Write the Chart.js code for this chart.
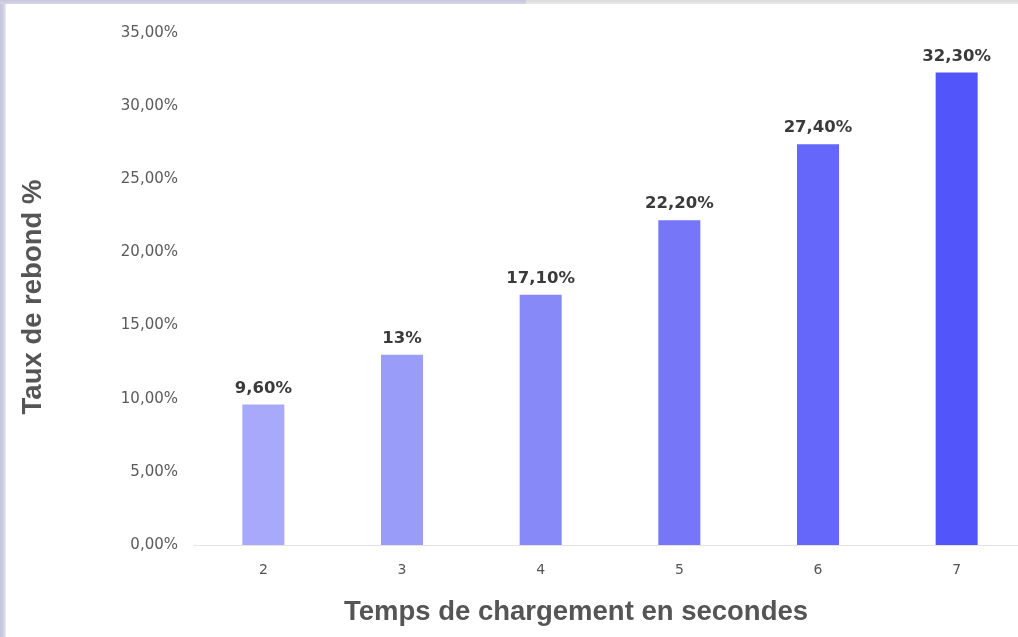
<!DOCTYPE html>
<html lang="fr">
<head>
<meta charset="utf-8">
<title>Taux de rebond selon le temps de chargement</title>
<script src="https://cdn.jsdelivr.net/npm/chart.js@4.4.1/dist/chart.umd.min.js"></script>
<style>
  html, body { margin: 0; padding: 0; background: #ffffff; overflow: hidden; }
  body { width: 1018px; height: 637px; position: relative; }
  #wrap { position: absolute; left: 0; top: 0; width: 1026px; height: 637px; }
  .edge-left { position: absolute; left: 0; top: 0; width: 6px; height: 637px;
    background: linear-gradient(to right, #c3c3da 0%, #cfcfe2 60%, #ececf4 100%); z-index: 2; }
  .edge-top-a { position: absolute; left: 0; top: 0; width: 526px; height: 4px;
    background: linear-gradient(to bottom, #c6c6dc, #d6d6e6); z-index: 2; }
  .edge-top-b { position: absolute; left: 526px; top: 0; width: 492px; height: 4px;
    background: linear-gradient(to bottom, #dcdcdc, #e9e9e9); z-index: 2; }
</style>
</head>
<body>
<div class="edge-left"></div>
<div class="edge-top-a"></div>
<div class="edge-top-b"></div>
<div id="wrap"><canvas id="chart" width="1026" height="637"></canvas></div>
<script>
// Temps de chargement (s) et taux de rebond (%)
const loadTimes = ['2', '3', '4', '5', '6', '7'];
const bounceRates = [9.6, 13, 17.1, 22.2, 27.4, 32.3];
const yTicks = [0, 5, 10, 15, 20, 25, 30, 35];

// Titres des axes
const xTitle = 'Temps de chargement en secondes';
const yTitle = 'Taux de rebond %';

// Couleurs des barres, du plus clair au plus foncé
const barColors = ['#a8a9fb', '#9a9cfa', '#8789f9', '#7577f8', '#6467f9', '#5255fa'];

const frPercent = v => v.toFixed(2).replace('.', ',') + '%';
const labelText = v => Number.isInteger(v) ? v + '%' : frPercent(v);

// Étiquettes de valeur au-dessus des barres
const valueLabels = {
  id: 'valueLabels',
  afterDatasetsDraw(chart) {
    const ctx = chart.ctx;
    const meta = chart.getDatasetMeta(0);
    ctx.save();
    ctx.font = 'bold 16.5px "DejaVu Sans", sans-serif';
    ctx.fillStyle = '#3a3a3a';
    ctx.textAlign = 'center';
    ctx.textBaseline = 'bottom';
    meta.data.forEach((bar, i) => {
      ctx.fillText(labelText(bounceRates[i]), bar.x, bar.y - 8);
    });
    ctx.restore();
  }
};

// Titres des axes, placés dans la zone visible
const axisTitles = {
  id: 'axisTitles',
  afterDraw(chart) {
    const ctx = chart.ctx;
    ctx.save();
    ctx.font = 'bold 27.5px "Liberation Sans", Arial, sans-serif';
    ctx.fillStyle = '#555555';
    ctx.textAlign = 'center';
    ctx.textBaseline = 'middle';
    ctx.fillText(xTitle, 576, 612);
    ctx.translate(33, 297);
    ctx.rotate(-Math.PI / 2);
    ctx.fillText(yTitle, 0, 0);
    ctx.restore();
  }
};

new Chart(document.getElementById('chart'), {
  type: 'bar',
  data: {
    labels: loadTimes,
    datasets: [{
      data: bounceRates,
      backgroundColor: barColors,
      borderWidth: 0,
      barPercentage: 0.6,
      categoryPercentage: 0.505
    }]
  },
  options: {
    responsive: false,
    animation: false,
    layout: { padding: { top: 33, right: 0, bottom: 0, left: 0 } },
    plugins: { legend: { display: false }, tooltip: { enabled: false } },
    scales: {
      x: {
        grid: { display: false, drawTicks: false },
        border: { display: true, color: '#e3e3e3', width: 1 },
        ticks: { color: '#555555', padding: 17, font: { family: '"DejaVu Sans", sans-serif', size: 14 } },
        afterFit(scale) { scale.height = 92; }
      },
      y: {
        min: 0,
        max: 35,
        afterBuildTicks(scale) { scale.ticks = yTicks.map(v => ({ value: v })); },
        grid: { display: false, drawTicks: false },
        border: { display: false },
        ticks: {
          color: '#5a5a5a',
          padding: 16,
          font: { family: '"DejaVu Sans", sans-serif', size: 15 },
          callback: v => frPercent(v)
        },
        afterFit(scale) { scale.width = 194; }
      }
    }
  },
  plugins: [valueLabels, axisTitles]
});
</script>
</body>
</html>
